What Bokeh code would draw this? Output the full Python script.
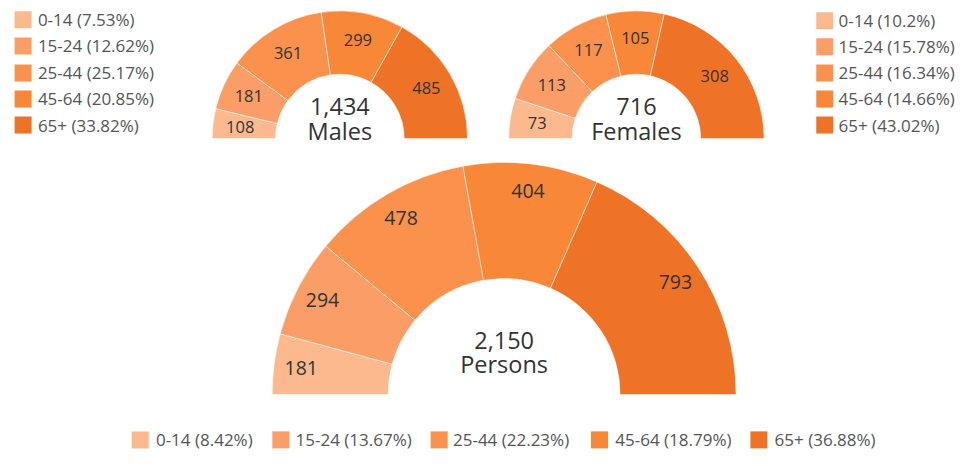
import math
from bokeh.plotting import figure
from bokeh.models import Range1d, ColumnDataSource
from bokeh.core.properties import value
from bokeh.embed import file_html
from bokeh.resources import INLINE

# ---- data ----
age_groups = ["0-14", "15-24", "25-44", "45-64", "65+"]
males = [108, 181, 361, 299, 485]
females = [73, 113, 117, 105, 308]
persons = [181, 294, 478, 404, 793]
chart_names = ["Males", "Females", "Persons"]

# ---- style / layout ----
colors = ["#FCB98E", "#FB9D66", "#FA914D", "#F98738", "#EE7326"]
FONT = value("Open Sans")
W, H = 961, 450
SX, SY = W / 977, H / 466
S = (SX + SY) / 2

def px(x):  # reference x -> data x
    return x * SX

def py(y):  # reference y -> data y
    return H - y * SY

p = figure(width=W, height=H, x_range=Range1d(0, W), y_range=Range1d(0, H),
           output_backend="svg", toolbar_location=None, min_border=0)
p.axis.visible = False
p.grid.visible = False
p.outline_line_color = None
p.background_fill_color = "white"
p.border_fill_color = "white"

def fmt(v):
    return f"{round(v, 2):.2f}".rstrip("0").rstrip(".")

def donut(vals, name, cx, cy, R, r, lab_r, lab_size, num_y, name_y, center_size):
    total = sum(vals)
    starts, ends, lx, ly = [], [], [], []
    cum = 0
    for v in vals:
        a0 = math.pi * (1 - (cum + v) / total)
        a1 = math.pi * (1 - cum / total)
        starts.append(a0)
        ends.append(a1)
        mid = (a0 + a1) / 2
        lx.append(cx + lab_r * math.cos(mid))
        ly.append(cy + lab_r * math.sin(mid))
        cum += v
    src = ColumnDataSource(dict(start=starts, end=ends, color=colors,
                                lx=lx, ly=ly, txt=[str(v) for v in vals]))
    p.annular_wedge(x=cx, y=cy, inner_radius=r, outer_radius=R,
                    start_angle="start", end_angle="end", fill_color="color",
                    line_color="white", line_width=0.8, line_alpha=0.7, source=src)
    p.text(x="lx", y="ly", text="txt", source=src, text_font=FONT,
           text_font_size=f"{lab_size}px", text_color="#333333",
           text_align="center", text_baseline="middle")
    p.text(x=[cx], y=[num_y], text=[f"{total:,}"], text_font=FONT,
           text_font_size=f"{center_size}px", text_color="#333333",
           text_align="center", text_baseline="middle")
    p.text(x=[cx], y=[name_y], text=[name], text_font=FONT,
           text_font_size=f"{center_size}px", text_color="#333333",
           text_align="center", text_baseline="middle")

donut(males, chart_names[0], px(345), py(143), 131 * S, 66 * S, 103 * S, 16.5,
      py(110), py(135), 23.5)
donut(females, chart_names[1], px(646.5), py(143), 131 * S, 66 * S, 103 * S, 16.5,
      py(110), py(135), 23.5)
donut(persons, chart_names[2], px(512), py(408), 238 * S, 119 * S, 210 * S, 19.5,
      py(352), py(376), 23.5)

def legend_items(vals):
    t = sum(vals)
    return [f"{g} ({fmt(v / t * 100)}%)" for g, v in zip(age_groups, vals)]

SQ = 17
LEG_FS = "17px"
# left legend (males)
left_rows = [20, 47, 75, 102, 129]
p.rect(x=[px(23)] * 5, y=[py(y) for y in left_rows], width=SQ, height=SQ,
       fill_color=colors, line_color=None)
p.text(x=[px(38)] * 5, y=[py(y) for y in left_rows], text=legend_items(males),
       text_font=FONT, text_font_size=LEG_FS, text_color="#555555",
       text_align="left", text_baseline="middle")

# right legend (females)
right_rows = [21, 48, 75, 102, 129]
p.rect(x=[px(838)] * 5, y=[py(y) for y in right_rows], width=SQ, height=SQ,
       fill_color=colors, line_color=None)
p.text(x=[px(852)] * 5, y=[py(y) for y in right_rows], text=legend_items(females),
       text_font=FONT, text_font_size=LEG_FS, text_color="#555555",
       text_align="left", text_baseline="middle")

# bottom legend (persons)
bot_sq_x = [142, 285, 446, 609, 771]
bot_txt_x = [158, 300, 460, 625, 787]
p.rect(x=[px(x) for x in bot_sq_x], y=[py(455)] * 5, width=SQ, height=SQ,
       fill_color=colors, line_color=None)
p.text(x=[px(x) for x in bot_txt_x], y=[py(455)] * 5, text=legend_items(persons),
       text_font=FONT, text_font_size=LEG_FS, text_color="#555555",
       text_align="left", text_baseline="middle")

open("out.html", "w").write(file_html(p, INLINE))
